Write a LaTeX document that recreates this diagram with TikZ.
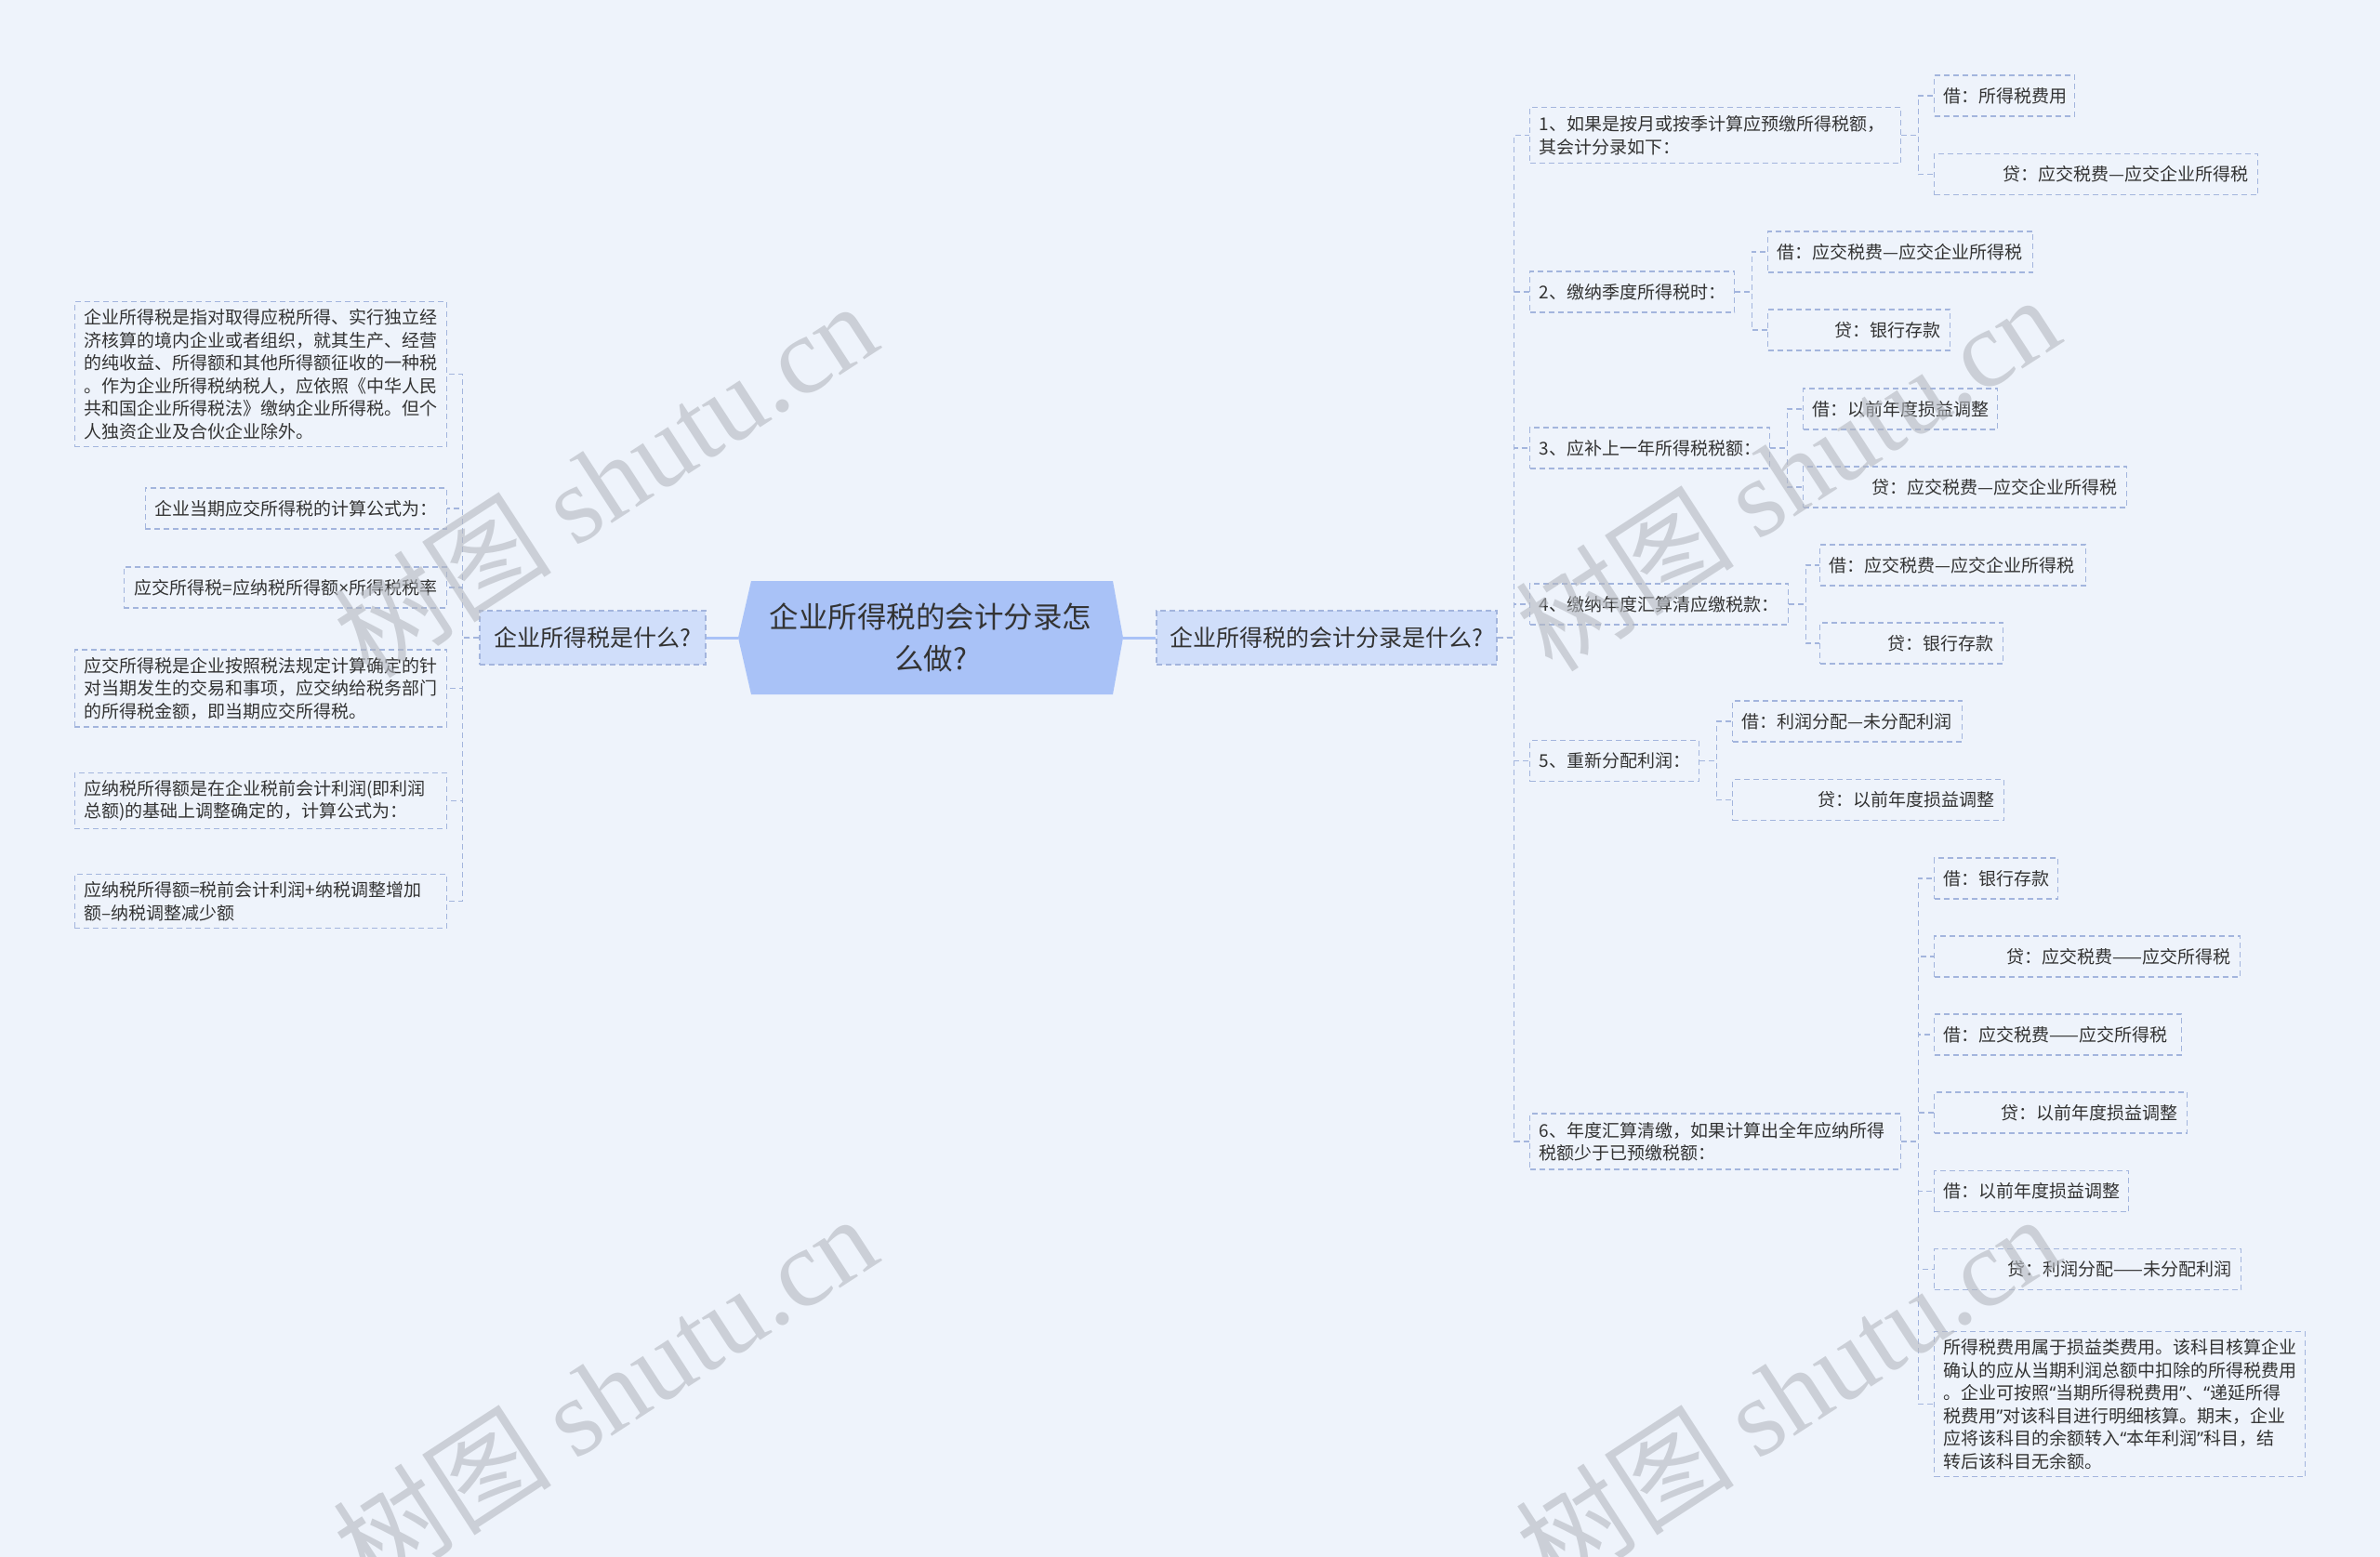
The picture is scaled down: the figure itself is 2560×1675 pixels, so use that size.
\documentclass[tikz,border=0pt]{standalone}
\usepackage{fontspec}
\usepackage{tikz}
\newfontfamily\cjk{Noto Sans CJK SC}
\newfontfamily\latin{Noto Sans}
\newfontfamily\wmserif{Liberation Serif}
\newcommand\lqt{{\latin “}}
\newcommand\rqt{{\latin ”}}
\newcommand\timessign{{\latin ×}}
\definecolor{bgblue}{HTML}{EEF3FB}
\definecolor{lineblue}{HTML}{A3B5DD}
\definecolor{topicfill}{HTML}{D0DEFA}
\definecolor{rootfill}{HTML}{A9C2F7}
\definecolor{textdark}{HTML}{333333}
\definecolor{wmgray}{HTML}{B4B8BF}

\tikzset{
  leaf/.style={draw=lineblue, dash pattern=on 6pt off 4pt, line width=1.3pt,
    fill=bgblue, text=textdark, font=\cjk\fontsize{19}{24.5}\selectfont,
    inner xsep=10pt, inner ysep=8pt, minimum height=44pt},
  topic/.style={leaf, fill=topicfill, font=\cjk\fontsize{25}{30}\selectfont,
    minimum height=58pt},
  root/.style={text=textdark, font=\cjk\fontsize{31.5}{45}\selectfont,
    minimum width=414pt, minimum height=122pt, text width=380pt, align=center},
  link/.style={draw=lineblue, dash pattern=on 6pt off 4pt, line width=1.3pt},
  mainlink/.style={draw=rootfill, line width=3pt},
  wmark/.style={text=wmgray, opacity=0.6, font=\fontsize{118}{120}\selectfont}
}

\begin{document}
\begin{tikzpicture}[x=1pt, y=-1pt]
    \useasboundingbox (0,0) rectangle (2560,1675);
    \fill[bgblue] (0,0) rectangle (2560,1675);

    % Central topic
    \fill[rootfill] (808,625) -- (1197,625) -- (1208,686) -- (1197,747) -- (808,747) -- (794,686) -- cycle;
    \node[root] (root) at (1001,686) {企业所得税的会计分录怎\\么做?};

    % Left branch
    \node[topic, minimum width=243pt] (L0) at (637.5,686) {企业所得税是什么?};
    \node[leaf, anchor=east, text width=380pt, align=left] (L1) at (481,402.5)
        {企业所得税是指对取得应税所得、实行独立经\\济核算的境内企业或者组织，就其生产、经营\\的纯收益、所得额和其他所得额征收的一种税\\。作为企业所得税纳税人，应依照《中华人民\\共和国企业所得税法》缴纳企业所得税。但个\\人独资企业及合伙企业除外。};
    \node[leaf, anchor=east, text width=304pt, align=right] (L2) at (481,547) {企业当期应交所得税的计算公式为：};
    \node[leaf, anchor=east, text width=327pt, align=right] (L3) at (481,632) {应交所得税=应纳税所得额\timessign 所得税税率};
    \node[leaf, anchor=east, text width=380pt, align=left] (L4) at (481,740.5)
        {应交所得税是企业按照税法规定计算确定的针\\对当期发生的交易和事项，应交纳给税务部门\\的所得税金额，即当期应交所得税。};
    \node[leaf, anchor=east, text width=380pt, align=left] (L5) at (481,861.5)
        {应纳税所得额是在企业税前会计利润(即利润\\总额)的基础上调整确定的，计算公式为：};
    \node[leaf, anchor=east, text width=380pt, align=left] (L6) at (481,969.5)
        {应纳税所得额=税前会计利润+纳税调整增加\\额–纳税调整减少额};

    % Right branch
    \node[topic, minimum width=366pt] (R0) at (1427,686) {企业所得税的会计分录是什么?};
    \node[leaf, anchor=west, text width=379pt, align=left, inner ysep=9pt] (R1) at (1645,145.5)
        {1、如果是按月或按季计算应预缴所得税额，\\其会计分录如下：};
    \node[leaf, anchor=west, text width=200pt, align=left] (R2) at (1645,314) {2、缴纳季度所得税时：};
    \node[leaf, anchor=west, text width=238pt, align=left] (R3) at (1645,482) {3、应补上一年所得税税额：};
    \node[leaf, anchor=west, text width=258pt, align=left] (R4) at (1645,650) {4、缴纳年度汇算清应缴税款：};
    \node[leaf, anchor=west, text width=162pt, align=left] (R5) at (1645,818.5) {5、重新分配利润：};
    \node[leaf, anchor=west, text width=379pt, align=left, inner ysep=9pt] (R6) at (1645,1228)
        {6、年度汇算清缴，如果计算出全年应纳所得\\税额少于已预缴税额：};

    % Entries of 1
    \node[leaf, anchor=west, text width=131pt, align=left] (R1a) at (2080,103) {借：所得税费用};
    \node[leaf, anchor=west, text width=328pt, align=right] (R1b) at (2080,187.5) {贷：应交税费—应交企业所得税};
    % Entries of 2
    \node[leaf, anchor=west, text width=265pt, align=left] (R2a) at (1901,271) {借：应交税费—应交企业所得税};
    \node[leaf, anchor=west, text width=176pt, align=right] (R2b) at (1901,355) {贷：银行存款};
    % Entries of 3
    \node[leaf, anchor=west, text width=189pt, align=left] (R3a) at (1939,440) {借：以前年度损益调整};
    \node[leaf, anchor=west, text width=328pt, align=right] (R3b) at (1939,524) {贷：应交税费—应交企业所得税};
    % Entries of 4
    \node[leaf, anchor=west, text width=266pt, align=left] (R4a) at (1957,608) {借：应交税费—应交企业所得税};
    \node[leaf, anchor=west, text width=177pt, align=right] (R4b) at (1957,692) {贷：银行存款};
    % Entries of 5
    \node[leaf, anchor=west, text width=227pt, align=left] (R5a) at (1863,776) {借：利润分配—未分配利润};
    \node[leaf, anchor=west, text width=272pt, align=right] (R5b) at (1863,860.5) {贷：以前年度损益调整};
    % Entries of 6
    \node[leaf, anchor=west, text width=113pt, align=left] (R6a) at (2080,945) {借：银行存款};
    \node[leaf, anchor=west, text width=309pt, align=right] (R6b) at (2080,1029) {贷：应交税费——应交所得税};
    \node[leaf, anchor=west, text width=246pt, align=left] (R6c) at (2080,1113) {借：应交税费——应交所得税};
    \node[leaf, anchor=west, text width=252pt, align=right] (R6d) at (2080,1197) {贷：以前年度损益调整};
    \node[leaf, anchor=west, text width=189pt, align=left] (R6e) at (2080,1281.5) {借：以前年度损益调整};
    \node[leaf, anchor=west, text width=310pt, align=right] (R6f) at (2080,1365.5) {贷：利润分配——未分配利润};
    \node[leaf, anchor=west, text width=379pt, align=left] (R6g) at (2080,1510.5)
        {所得税费用属于损益类费用。该科目核算企业\\确认的应从当期利润总额中扣除的所得税费用\\。企业可按照\lqt 当期所得税费用\rqt 、\lqt 递延所得\\税费用\rqt 对该科目进行明细核算。期末，企业\\应将该科目的余额转入\lqt 本年利润\rqt 科目，结\\转后该科目无余额。};

    % Connectors
    \draw[mainlink] (L0.east) -- (root.west);
    \draw[mainlink] (root.east) -- (R0.west);
    \foreach \c in {L1,L2,L3,L4,L5,L6}
        \draw[link] (L0.west) -- ++(-18,0) |- (\c.east);
    \foreach \c in {R1,R2,R3,R4,R5,R6}
        \draw[link] (R0.east) -- ++(18,0) |- (\c.west);
    \foreach \p/\c in {R1/R1a,R1/R1b,R2/R2a,R2/R2b,R3/R3a,R3/R3b,R4/R4a,R4/R4b,R5/R5a,R5/R5b,
                       R6/R6a,R6/R6b,R6/R6c,R6/R6d,R6/R6e,R6/R6f,R6/R6g}
        \draw[link] (\p.east) -- ++(18,0) |- (\c.west);

    % Watermarks
    \node[wmark, rotate=33] (wm1) at (650,515) {\cjk 树图 \wmserif shutu.cn};
    \node[wmark, rotate=33] (wm2) at (1922,508) {\cjk 树图 \wmserif shutu.cn};
    \node[wmark, rotate=33] (wm3) at (650,1497) {\cjk 树图 \wmserif shutu.cn};
    \node[wmark, rotate=33] (wm4) at (1922,1497) {\cjk 树图 \wmserif shutu.cn};
\end{tikzpicture}
\end{document}
